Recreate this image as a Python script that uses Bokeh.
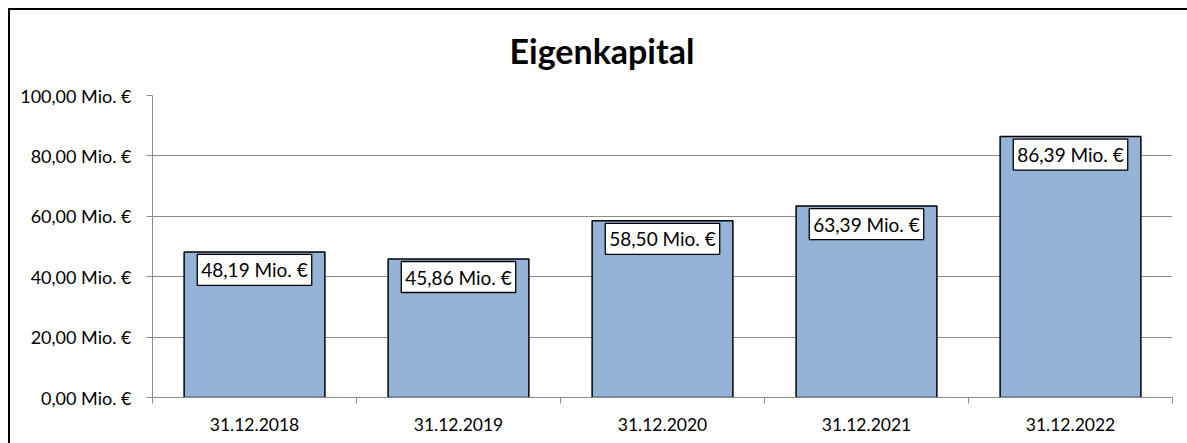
from bokeh.plotting import figure
from bokeh.models import (Range1d, FixedTicker, LinearAxis, ColumnDataSource)
from bokeh.core.properties import value
from bokeh.embed import file_html
from bokeh.resources import INLINE

title_text = "Eigenkapital"
categories = ["31.12.2018", "31.12.2019", "31.12.2020", "31.12.2021", "31.12.2022"]
values = [48.19, 45.86, 58.50, 63.39, 86.39]
y_ticks = [0, 20, 40, 60, 80, 100]
y_tick_labels = ["0,00 Mio. €", "20,00 Mio. €", "40,00 Mio. €", "60,00 Mio. €",
                 "80,00 Mio. €", "100,00 Mio. €"]
value_labels = [f"{v:.2f}".replace(".", ",") + " Mio. €" for v in values]

FONT = "Lato"
GRID = "#8c8c8c"
n = len(categories)
centers = [i + 0.5 for i in range(n)]

p = figure(width=1187, height=443, output_backend="svg", toolbar_location=None,
           x_range=Range1d(0, n), y_range=Range1d(0, 100),
           x_axis_location=None, y_axis_location=None,
           min_border_left=152, min_border_right=15, min_border_top=95, min_border_bottom=46)
# outer chart frame (left and top edges) drawn as CSS background behind a transparent border area
p.border_fill_color = None
p.background_fill_color = "white"
p.styles = {"background": "linear-gradient(black, black) 8px 8px / 100% 2px no-repeat, "
                          "linear-gradient(black, black) 8px 8px / 2px 100% no-repeat, white"}
p.outline_line_color = None

src = ColumnDataSource(dict(x=centers, val=values, lab=value_labels))
p.vbar(x="x", top="val", width=0.69, source=src, fill_color="#95b3d7",
       line_color="black", line_width=1.5)

p.text(x="x", y="val", text="lab", source=src, text_align="center",
       text_baseline="top", y_offset=2.5, text_font=value(FONT), text_font_size="19px",
       text_color="black", background_fill_color="white",
       border_line_color="black", border_line_width=1.3, padding=4)

# y axis
yax = LinearAxis(ticker=FixedTicker(ticks=y_ticks))
yax.major_label_overrides = {t: l for t, l in zip(y_ticks, y_tick_labels)}
yax.major_label_text_font = FONT
yax.major_label_text_font_size = "18px"
yax.major_label_text_color = "black"
yax.axis_line_color = GRID
yax.major_tick_line_color = GRID
yax.major_tick_out = 6
yax.major_tick_in = 0
yax.minor_tick_line_color = None
yax.major_label_standoff = 15
p.add_layout(yax, "left")

# x tick marks between categories
tick_pos = list(range(n + 1))
tax = LinearAxis(ticker=FixedTicker(ticks=tick_pos))
tax.major_label_overrides = {t: "" for t in tick_pos}
tax.major_label_standoff = 0
tax.axis_line_color = GRID
tax.major_tick_line_color = GRID
tax.major_tick_out = 6
tax.major_tick_in = 0
tax.minor_tick_line_color = None
p.add_layout(tax, "below")

# category labels
xax = LinearAxis(ticker=FixedTicker(ticks=centers))
xax.major_label_overrides = {c: l for c, l in zip(centers, categories)}
xax.axis_line_color = None
xax.major_tick_line_color = None
xax.minor_tick_line_color = None
xax.major_label_text_font = FONT
xax.major_label_text_font_size = "17.5px"
xax.major_label_text_color = "black"
xax.major_label_standoff = 8
p.add_layout(xax, "below")

p.xgrid.visible = False
p.ygrid.ticker = FixedTicker(ticks=y_ticks)
p.ygrid.grid_line_color = GRID
p.ygrid.grid_line_width = 1

p.title.text = title_text
p.title.text_font = FONT
p.title.text_font_style = "bold"
p.title.text_font_size = "34px"
p.title.text_color = "black"
p.title.align = "left"
p.title.offset = 357
p.title.standoff = 50

open("out.html", "w").write(file_html(p, INLINE))
